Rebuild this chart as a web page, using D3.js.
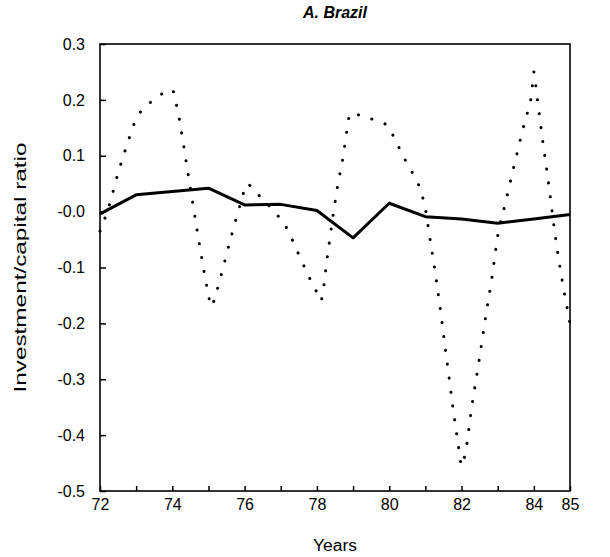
<!DOCTYPE html>
<html>
<head>
<meta charset="utf-8">
<script src="https://cdn.jsdelivr.net/npm/d3@7/dist/d3.min.js"></script>
<style>
  html, body { margin: 0; padding: 0; background: #fff; }
  svg { display: block; }
  text { font-family: "Liberation Sans", Arial, Helvetica, sans-serif; fill: #000; }
</style>
</head>
<body>
<svg id="chart" width="610" height="557"></svg>
<script>
// ---- data ----
const solidYears  = [72, 73, 74, 75, 76, 77, 78, 79, 80, 81, 82, 83, 84, 85];
const solidValues = [-0.004, 0.030, 0.036, 0.042, 0.012, 0.013, 0.002, -0.047, 0.015, -0.009, -0.013, -0.021, -0.013, -0.005];

const dottedYears  = [72.0, 72.25, 72.5, 72.75, 73.0, 73.25, 73.5, 73.8, 74.0, 74.1, 74.45, 74.7, 74.98, 75.08, 75.2, 75.6, 75.93, 76.06, 76.3, 76.6, 76.86, 77.1, 77.45, 77.79, 78.0, 78.1, 78.3, 78.44, 78.58, 78.73, 78.84, 78.92, 79.26, 79.63, 79.97, 80.15, 80.5, 80.86, 81.0, 81.1, 81.34, 81.55, 81.76, 81.93, 82.0, 82.11, 82.28, 82.47, 82.65, 82.84, 83.01, 83.2, 83.38, 83.56, 83.75, 83.94, 84.0, 84.08, 84.23, 84.44, 84.54, 85.0];
const dottedValues = [-0.035, 0.010, 0.069, 0.120, 0.166, 0.188, 0.200, 0.214, 0.218, 0.195, 0.062, -0.039, -0.142, -0.170, -0.148, -0.052, 0.024, 0.050, 0.035, 0.016, -0.003, -0.022, -0.070, -0.118, -0.145, -0.160, -0.075, -0.010, 0.049, 0.100, 0.150, 0.176, 0.171, 0.163, 0.153, 0.130, 0.085, 0.039, 0.005, -0.037, -0.140, -0.244, -0.349, -0.427, -0.455, -0.430, -0.351, -0.273, -0.196, -0.118, -0.040, 0.012, 0.062, 0.111, 0.162, 0.212, 0.250, 0.210, 0.134, 0.034, -0.018, -0.200];

const xTickYears  = [72, 73, 74, 75, 76, 77, 78, 79, 80, 81, 82, 83, 84, 85];
const xLabelYears = [72, 74, 76, 78, 80, 82, 84, 85];
const yTickValues = [0.3, 0.2, 0.1, 0.0, -0.1, -0.2, -0.3, -0.4, -0.5];
const yTickLabels = ["0.3", "0.2", "0.1", "-0.0", "-0.1", "-0.2", "-0.3", "-0.4", "-0.5"];

const titleText  = "A. Brazil";
const xTitleText = "Years";
const yTitleText = "Investment/capital ratio";

// ---- layout ----
const svg = d3.select("#chart");
const mLeft = 100, mRight = 570, mTop = 44, mBottom = 491;

const x = d3.scaleLinear().domain([72, 85]).range([mLeft, mRight]);
const y = d3.scaleLinear().domain([-0.5, 0.3]).range([mBottom, mTop]);

// frame
svg.append("rect")
  .attr("x", mLeft).attr("y", mTop)
  .attr("width", mRight - mLeft).attr("height", mBottom - mTop)
  .attr("fill", "none").attr("stroke", "#000").attr("stroke-width", 1.6);

// x axis
const xAxis = d3.axisBottom(x)
  .tickValues(xTickYears)
  .tickSize(-5)
  .tickPadding(8)
  .tickFormat(d => xLabelYears.includes(d) ? String(d) : "");
const gx = svg.append("g").attr("transform", `translate(0,${mBottom})`).call(xAxis);
gx.select(".domain").remove();
gx.selectAll(".tick line").attr("stroke", "#000").attr("stroke-width", 1.5);
gx.selectAll(".tick text").attr("font-size", 16).style("font-family", "'Liberation Sans', Arial, sans-serif");

// y axis
const yAxis = d3.axisLeft(y)
  .tickValues(yTickValues)
  .tickSize(-6)
  .tickPadding(15)
  .tickFormat((d, i) => yTickLabels[i]);
const gy = svg.append("g").attr("transform", `translate(${mLeft},0)`).call(yAxis);
gy.select(".domain").remove();
gy.selectAll(".tick line").attr("stroke", "#000").attr("stroke-width", 1.5);
gy.selectAll(".tick text").attr("font-size", 16).style("font-family", "'Liberation Sans', Arial, sans-serif");

// dotted series
const dottedData = dottedYears.map((yr, i) => [yr, dottedValues[i]]);
svg.append("path")
  .datum(dottedData)
  .attr("fill", "none")
  .attr("stroke", "#000")
  .attr("stroke-width", 3)
  .attr("stroke-linecap", "round")
  .attr("stroke-dasharray", "0.1,13.9")
  .attr("d", d3.line().x(d => x(d[0])).y(d => y(d[1])).curve(d3.curveMonotoneX));

// solid series
const solidData = solidYears.map((yr, i) => [yr, solidValues[i]]);
svg.append("path")
  .datum(solidData)
  .attr("fill", "none")
  .attr("stroke", "#000")
  .attr("stroke-width", 3)
  .attr("stroke-linejoin", "round")
  .attr("d", d3.line().x(d => x(d[0])).y(d => y(d[1])));

// titles
svg.append("text")
  .attr("x", (mLeft + mRight) / 2).attr("y", 18)
  .attr("text-anchor", "middle")
  .attr("font-size", 16).attr("font-weight", "bold").attr("font-style", "italic")
  .text(titleText);

svg.append("text")
  .attr("x", (mLeft + mRight) / 2).attr("y", 551)
  .attr("text-anchor", "middle")
  .attr("font-size", 16)
  .attr("textLength", 44).attr("lengthAdjust", "spacingAndGlyphs")
  .text(xTitleText);

svg.append("text")
  .attr("transform", `translate(26,${(mTop + mBottom) / 2}) rotate(-90)`)
  .attr("text-anchor", "middle")
  .attr("font-size", 16)
  .attr("textLength", 250).attr("lengthAdjust", "spacingAndGlyphs")
  .text(yTitleText);
</script>
</body>
</html>
